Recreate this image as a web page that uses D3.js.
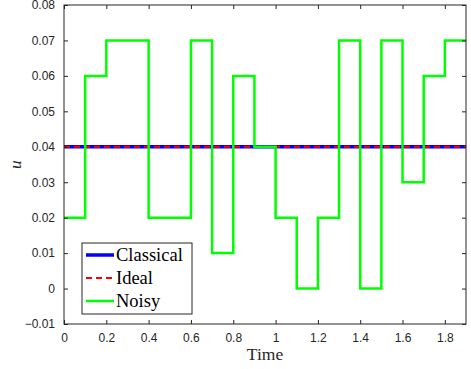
<!DOCTYPE html>
<html>
<head>
<meta charset="utf-8">
<script src="https://cdn.jsdelivr.net/npm/d3@7"></script>
<style>
  body { margin: 0; background: #fff; }
  svg { display: block; }
</style>
</head>
<body>
<div id="chart"></div>
<script>
// stairs data: value holds from t to the next t
const times = [0, 0.1, 0.2, 0.3, 0.4, 0.5, 0.6, 0.7, 0.8, 0.9, 1.0, 1.1, 1.2, 1.3, 1.4, 1.5, 1.6, 1.7, 1.8, 1.9];
const noisy = [0.02, 0.06, 0.07, 0.07, 0.02, 0.02, 0.07, 0.01, 0.06, 0.04, 0.02, 0, 0.02, 0.07, 0, 0.07, 0.03, 0.06, 0.07, 0.07];
const classical = 0.04;
const ideal = 0.04;
const xTicks = [0, 0.2, 0.4, 0.6, 0.8, 1, 1.2, 1.4, 1.6, 1.8];
const yTicks = [-0.01, 0, 0.01, 0.02, 0.03, 0.04, 0.05, 0.06, 0.07, 0.08];
const legendItems = ["Classical", "Ideal", "Noisy"];

const width = 471, height = 369;
const margin = { top: 5, right: 5, bottom: 45, left: 64 };
const axisColor = "#262626";
const serif = "Liberation Serif, Times New Roman, serif";

const svg = d3.select("#chart").append("svg")
  .attr("width", width)
  .attr("height", height);

const x = d3.scaleLinear().domain([0, 1.9]).range([margin.left, width - margin.right]);
const y = d3.scaleLinear().domain([-0.01, 0.08]).range([height - margin.bottom, margin.top]);

svg.append("clipPath").attr("id", "clip")
  .append("rect")
  .attr("x", margin.left).attr("y", margin.top)
  .attr("width", x.range()[1] - margin.left)
  .attr("height", y.range()[0] - margin.top);

const plot = svg.append("g").attr("clip-path", "url(#clip)");

// classical and ideal are flat
plot.append("line")
  .attr("x1", x(0)).attr("x2", x(1.9))
  .attr("y1", y(classical)).attr("y2", y(classical))
  .attr("stroke", "#0000ff").attr("stroke-width", 3.5);

plot.append("line")
  .attr("x1", x(0)).attr("x2", x(1.9))
  .attr("y1", y(ideal)).attr("y2", y(ideal))
  .attr("stroke", "#ff0000").attr("stroke-width", 2)
  .attr("stroke-dasharray", "6,4");

const line = d3.line()
  .x((d, i) => x(times[i]))
  .y(d => y(d))
  .curve(d3.curveStepAfter);

plot.append("path")
  .datum(noisy)
  .attr("d", line)
  .attr("fill", "none")
  .attr("stroke", "#00ff00")
  .attr("stroke-width", 2.5);

// axes, MATLAB style box with inward ticks
const tickFont = "Liberation Sans, Arial, sans-serif";
const styleAxis = g => {
  g.selectAll("path.domain").remove();
  g.selectAll("line").attr("stroke", axisColor);
  g.selectAll("text").attr("fill", axisColor).style("font-family", tickFont).style("font-size", "12px");
};

svg.append("g")
  .attr("transform", `translate(0,${y.range()[0]})`)
  .call(d3.axisBottom(x).tickValues(xTicks).tickFormat(d3.format("")).tickSizeInner(-4).tickPadding(9))
  .call(styleAxis);

svg.append("g")
  .attr("transform", `translate(0,${margin.top})`)
  .call(d3.axisTop(x).tickValues(xTicks).tickFormat("").tickSizeInner(-4))
  .call(styleAxis);

svg.append("g")
  .attr("transform", `translate(${margin.left},0)`)
  .call(d3.axisLeft(y).tickValues(yTicks).tickFormat(d3.format("")).tickSizeInner(-4).tickPadding(9))
  .call(styleAxis);

svg.append("g")
  .attr("transform", `translate(${x.range()[1]},0)`)
  .call(d3.axisRight(y).tickValues(yTicks).tickFormat("").tickSizeInner(-4))
  .call(styleAxis);

svg.append("rect")
  .attr("x", margin.left).attr("y", margin.top)
  .attr("width", x.range()[1] - margin.left)
  .attr("height", y.range()[0] - margin.top)
  .attr("fill", "none")
  .attr("stroke", axisColor)
  .attr("stroke-width", 1);

// axis labels
svg.append("text")
  .attr("x", (margin.left + x.range()[1]) / 2)
  .attr("y", 360)
  .attr("text-anchor", "middle")
  .style("font-family", serif)
  .style("font-size", "17.5px")
  .attr("fill", axisColor)
  .text("Time");

svg.append("text")
  .attr("transform", `translate(21,${(margin.top + y.range()[0]) / 2}) rotate(-90)`)
  .attr("text-anchor", "middle")
  .style("font-family", serif)
  .style("font-style", "italic")
  .style("font-size", "17.5px")
  .attr("fill", axisColor)
  .text("u");

// legend
const legend = svg.append("g").attr("transform", "translate(82,243)");
legend.append("rect")
  .attr("width", 110).attr("height", 71)
  .attr("fill", "#fff")
  .attr("stroke", axisColor);

const legendStyles = [
  { color: "#0000ff", width: 3.5, dash: null },
  { color: "#ff0000", width: 2, dash: "6,4" },
  { color: "#00ff00", width: 2.5, dash: null }
];

legendItems.forEach((name, i) => {
  const row = legend.append("g").attr("transform", `translate(0,${12 + i * 23})`);
  const s = legendStyles[i];
  row.append("line")
    .attr("x1", 4).attr("x2", 32)
    .attr("stroke", s.color).attr("stroke-width", s.width)
    .attr("stroke-dasharray", s.dash);
  row.append("text")
    .attr("x", 34).attr("y", 6)
    .style("font-family", serif)
    .style("font-size", "18.5px")
    .attr("fill", "#000")
    .text(name);
});
</script>
</body>
</html>
